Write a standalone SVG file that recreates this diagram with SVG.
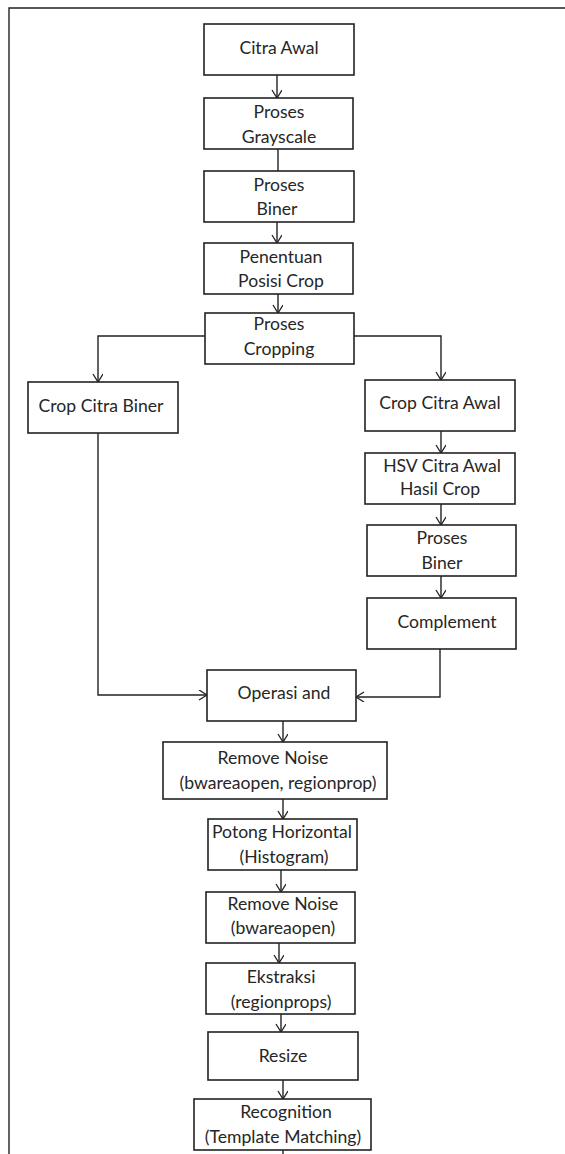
<svg xmlns="http://www.w3.org/2000/svg" width="565" height="1154" viewBox="0 0 565 1154">
<style>
.box{fill:#fff;stroke:#222;stroke-width:1.6}
.t{font-family:Lato,"Liberation Sans",sans-serif;font-size:17.6px;fill:#262626;text-anchor:middle}
.c{fill:none;stroke:#222;stroke-width:1.4}
</style>
<defs>
<marker id="ah" markerUnits="userSpaceOnUse" markerWidth="12" markerHeight="12" refX="9" refY="5" orient="auto">
<path d="M1,0 L9,5 L1,10" fill="none" stroke="#222" stroke-width="1.3"/>
</marker>
</defs>
<rect width="565" height="1154" fill="#fff"/>
<g id="frame"><path class="c" d="M9,1154 V8 H565" stroke-width="1.6"/></g>
<g id="connectors">
<path class="c" d="M277,75 V98" marker-end="url(#ah)"/>
<path class="c" d="M278,149 V171"/>
<path class="c" d="M277,222 V243" marker-end="url(#ah)"/>
<path class="c" d="M278,294 V313" marker-end="url(#ah)"/>
<path class="c" d="M205,336 H98 V382" marker-end="url(#ah)"/>
<path class="c" d="M354,336 H441 V380" marker-end="url(#ah)"/>
<path class="c" d="M441,431 V453" marker-end="url(#ah)"/>
<path class="c" d="M441,504 V525" marker-end="url(#ah)"/>
<path class="c" d="M441,576 V598" marker-end="url(#ah)"/>
<path class="c" d="M98,433 V695 H207" marker-end="url(#ah)"/>
<path class="c" d="M440,649 V697 H356" marker-end="url(#ah)"/>
<path class="c" d="M283,721 V742" marker-end="url(#ah)"/>
<path class="c" d="M283,799 V819" marker-end="url(#ah)"/>
<path class="c" d="M281,870 V892" marker-end="url(#ah)"/>
<path class="c" d="M279,943 V963" marker-end="url(#ah)"/>
<path class="c" d="M281,1014 V1032" marker-end="url(#ah)"/>
<path class="c" d="M283,1080 V1099" marker-end="url(#ah)"/>
<path class="c" d="M283,1150 V1154"/>
</g>
<g id="n1"><rect class="box" x="204" y="24" width="150" height="51"/><text class="t" x="279" y="54">Citra Awal</text></g>
<g id="n2"><rect class="box" x="204" y="98" width="149" height="51"/><text class="t" x="279" y="118">Proses</text><text class="t" x="279" y="143">Grayscale</text></g>
<g id="n3"><rect class="box" x="204" y="171" width="150" height="51"/><text class="t" x="279" y="191">Proses</text><text class="t" x="277" y="215">Biner</text></g>
<g id="n4"><rect class="box" x="204" y="243" width="149" height="51"/><text class="t" x="281" y="263">Penentuan</text><text class="t" x="281" y="287">Posisi Crop</text></g>
<g id="n5"><rect class="box" x="205" y="313" width="149" height="51"/><text class="t" x="279" y="330">Proses</text><text class="t" x="279" y="355">Cropping</text></g>
<g id="n6"><rect class="box" x="28" y="382" width="150" height="51"/><text class="t" x="101" y="412">Crop Citra Biner</text></g>
<g id="n7"><rect class="box" x="365" y="380" width="150" height="51"/><text class="t" x="440" y="409">Crop Citra Awal</text></g>
<g id="n8"><rect class="box" x="365" y="453" width="150" height="51"/><text class="t" x="442" y="472">HSV Citra Awal</text><text class="t" x="440" y="495">Hasil Crop</text></g>
<g id="n9"><rect class="box" x="367" y="525" width="149" height="51"/><text class="t" x="442" y="544">Proses</text><text class="t" x="442" y="569">Biner</text></g>
<g id="n10"><rect class="box" x="367" y="598" width="149" height="51"/><text class="t" x="447" y="628">Complement</text></g>
<g id="n11"><rect class="box" x="207" y="670" width="149" height="51"/><text class="t" x="284" y="699">Operasi and</text></g>
<g id="n12"><rect class="box" x="163" y="742" width="224" height="57"/><text class="t" x="273" y="764">Remove Noise</text><text class="t" x="278" y="789">(bwareaopen, regionprop)</text></g>
<g id="n13"><rect class="box" x="208" y="819" width="149" height="51"/><text class="t" x="282" y="838">Potong Horizontal</text><text class="t" x="284" y="863">(Histogram)</text></g>
<g id="n14"><rect class="box" x="206" y="892" width="149" height="51"/><text class="t" x="283" y="910">Remove Noise</text><text class="t" x="283" y="934">(bwareaopen)</text></g>
<g id="n15"><rect class="box" x="206" y="963" width="149" height="51"/><text class="t" x="281" y="983">Ekstraksi</text><text class="t" x="281" y="1008">(regionprops)</text></g>
<g id="n16"><rect class="box" x="208" y="1032" width="150" height="48"/><text class="t" x="283" y="1062">Resize</text></g>
<g id="n17"><rect class="box" x="194" y="1099" width="177" height="51"/><text class="t" x="286" y="1118">Recognition</text><text class="t" x="283" y="1143">(Template Matching)</text></g>
</svg>
